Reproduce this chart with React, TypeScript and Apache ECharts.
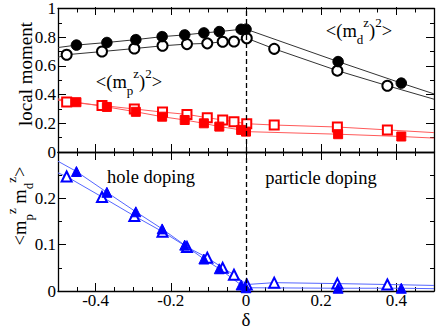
import React, { useEffect, useRef } from "react";
import * as echarts from "echarts";

// x positions (delta) of filled-symbol and open-symbol data sets
const xFilled = [-0.451, -0.37, -0.293, -0.223, -0.163, -0.112, -0.071, -0.013, 0.0, 0.245, 0.413];
const xOpen = [-0.477, -0.383, -0.297, -0.222, -0.157, -0.103, -0.062, -0.032, 0.002, 0.075, 0.243, 0.376];

// <(m_d^z)^2>
const md2Filled = [0.745, 0.763, 0.783, 0.804, 0.816, 0.83, 0.839, 0.855, 0.856, 0.63, 0.48];
const md2Open = [0.678, 0.7, 0.721, 0.74, 0.752, 0.757, 0.768, 0.77, 0.793, 0.719, 0.567, 0.462];
// <(m_p^z)^2>
const mp2Filled = [0.347, 0.314, 0.28, 0.246, 0.223, 0.2, 0.177, 0.154, 0.142, 0.124, 0.108];
const mp2Open = [0.349, 0.324, 0.3, 0.278, 0.262, 0.239, 0.223, 0.211, 0.197, 0.188, 0.174, 0.154];
// <m_p^z m_d^z>
const mpmdFilled = [0.258, 0.213, 0.171, 0.134, 0.099, 0.069, 0.048, 0.013, 0.007, 0.006, 0.006];
const mpmdOpen = [0.247, 0.203, 0.162, 0.128, 0.095, 0.072, 0.05, 0.035, 0.014, 0.018, 0.016, 0.014];

// fitted-line values at delta = -0.5 and delta = 0.5
const xEnds = [-0.5, 0.5];
const md2FilledEnds = [0.728, 0.405];
const md2OpenEnds = [0.66, 0.368];
const mp2FilledEnds = [0.37, 0.097];
const mp2OpenEnds = [0.362, 0.135];
const mpmdFilledEnds = [0.28, 0.005];
const mpmdOpenEnds = [0.255, 0.012];

const xMajorTicks = [-0.4, -0.2, 0, 0.2, 0.4];
const xMinorTicks = [-0.5, -0.45, -0.4, -0.35, -0.3, -0.25, -0.2, -0.15, -0.1, -0.05, 0, 0.05, 0.1, 0.15, 0.2, 0.25, 0.3, 0.35, 0.4, 0.45, 0.5];

const FONT = "Liberation Serif";

function mk(xs: number[], ys: number[], ends: number[]) {
  return [
    { value: [xEnds[0], ends[0]], symbol: "none" },
    ...xs.map((x, i) => [x, ys[i]]),
    { value: [xEnds[1], ends[1]], symbol: "none" },
  ];
}

export default function App() {
  const ref = useRef<HTMLDivElement>(null);
  useEffect(() => {
    if (!ref.current) return;
    const chart = echarts.init(ref.current, null, { renderer: "svg" });
    const gridA = { left: 58, width: 376, top: 7, height: 145 };
    const gridB = { left: 58, width: 376, top: 152, height: 139 };
    const axLine = { show: true, onZero: false, lineStyle: { color: "#000", width: 1.3 } };
    const labelStyle = {
      fontFamily: FONT,
      fontSize: 17,
      color: "#000",
      formatter: (v: number) => `{t|${String(Math.round(v * 10) / 10)}}`,
      rich: { t: { fontFamily: FONT, fontSize: 17, color: "#000" } },
    };
    const xMinor = (gridIndex: number, position: string, labels: boolean) => ({
      type: "value",
      gridIndex,
      position,
      min: -0.5,
      max: 0.5,
      axisLine: axLine,
      axisTick: { show: true, inside: true, length: 4, customValues: xMinorTicks, lineStyle: { color: "#000", width: 1 } },
      axisLabel: labels
        ? { show: true, customValues: xMajorTicks, ...labelStyle, margin: 1 }
        : { show: false },
      splitLine: { show: false },
    });
    const xMajor = (gridIndex: number, position: string) => ({
      type: "value",
      gridIndex,
      position,
      min: -0.5,
      max: 0.5,
      axisLine: { show: false, onZero: false },
      axisTick: { show: true, inside: true, length: 8, customValues: xMajorTicks, lineStyle: { color: "#000", width: 1 } },
      axisLabel: { show: false },
      splitLine: { show: false },
    });
    const yAx = (gridIndex: number, position: string, max: number, interval: number, labels: boolean) => ({
      type: "value",
      gridIndex,
      position,
      min: 0,
      max,
      interval,
      axisLine: axLine,
      axisTick: { show: true, inside: true, length: 8, lineStyle: { color: "#000", width: 1 } },
      minorTick: { show: true, splitNumber: 2, length: 4, lineStyle: { color: "#000", width: 1 } },
      axisLabel: labels
        ? { show: true, ...labelStyle, margin: 2, showMaxLabel: max === 1 }
        : { show: false },
      splitLine: { show: false },
    });
    const vLine = {
      silent: true,
      symbol: "none",
      label: { show: false },
      lineStyle: { color: "#000", type: [5, 3], width: 1.3 },
      data: [{ xAxis: 0 }],
    };
    const ser = (
      name: string,
      xi: number,
      yi: number,
      data: any[],
      symbol: string,
      size: number,
      color: string,
      lineColor: string,
      extra: any = {}
    ) => ({
      name,
      type: "line",
      xAxisIndex: xi,
      yAxisIndex: yi,
      data,
      symbol,
      symbolSize: size,
      showAllSymbol: true,
      itemStyle: { color, borderColor: color, borderWidth: 1 },
      lineStyle: { color: lineColor, width: 1 },
      ...extra,
    });
    const supStyle = { fontFamily: FONT, fontSize: 13, lineHeight: 14, verticalAlign: "top", fill: "#000" };
    const subStyle = { fontFamily: FONT, fontSize: 13, lineHeight: 14, verticalAlign: "bottom", fill: "#000" };

    chart.setOption({
      animation: false,
      backgroundColor: "#fff",
      textStyle: { fontFamily: FONT },
      grid: [gridA, gridB, gridA, gridB],
      xAxis: [
        xMinor(0, "bottom", false),
        xMinor(0, "top", false),
        xMinor(1, "bottom", true),
        xMinor(1, "top", false),
        xMajor(2, "bottom"),
        xMajor(2, "top"),
        xMajor(3, "bottom"),
        xMajor(3, "top"),
      ],
      yAxis: [
        yAx(0, "left", 1, 0.2, true),
        yAx(0, "right", 1, 0.2, false),
        yAx(1, "left", 0.3, 0.1, true),
        yAx(1, "right", 0.3, 0.1, false),
        { type: "value", gridIndex: 2, min: 0, max: 1, show: false },
        { type: "value", gridIndex: 3, min: 0, max: 0.3, show: false },
      ],
      series: [
        ser("md2Open", 0, 0, mk(xOpen, md2Open, md2OpenEnds), "emptyCircle", 10, "#000", "#333", { markLine: vLine }),
        ser("md2Filled", 0, 0, mk(xFilled, md2Filled, md2FilledEnds), "circle", 10.5, "#000", "#333"),
        ser("mp2Open", 0, 0, mk(xOpen, mp2Open, mp2OpenEnds), "emptyRect", 9, "#ff0000", "#ff5a5a"),
        ser("mp2Filled", 0, 0, mk(xFilled, mp2Filled, mp2FilledEnds), "rect", 9, "#ff0000", "#ff5a5a"),
        ser("mpmdOpen", 2, 2, mk(xOpen, mpmdOpen, mpmdOpenEnds), "emptyTriangle", 10, "#0000ff", "#5566ff", { markLine: vLine }),
        ser("mpmdFilled", 2, 2, mk(xFilled, mpmdFilled, mpmdFilledEnds), "triangle", 10, "#0000ff", "#5566ff"),
      ],
      graphic: [
        {
          type: "text",
          x: 25,
          y: 74,
          rotation: Math.PI / 2,
          style: { text: "local moment", font: `19px ${FONT}`, fill: "#000", align: "center", verticalAlign: "middle" },
        },
        {
          type: "text",
          x: 20,
          y: 206,
          rotation: Math.PI / 2,
          style: {
            text: "<m{sub|p}{sup|z} m{sub|d}{sup|z}>",
            align: "center",
            verticalAlign: "middle",
            fontFamily: FONT,
            fontSize: 18.5,
            lineHeight: 30,
            fill: "#000",
            rich: { sup: supStyle, sub: subStyle },
          },
        },
        {
          type: "text",
          x: 359,
          y: 31,
          style: {
            text: "<(m{sub|d}{sup|z}){sup|2}>",
            align: "center",
            verticalAlign: "middle",
            fontFamily: FONT,
            fontSize: 18.5,
            lineHeight: 30,
            fill: "#000",
            rich: { sup: supStyle, sub: subStyle },
          },
        },
        {
          type: "text",
          x: 129,
          y: 82,
          style: {
            text: "<(m{sub|p}{sup|z}){sup|2}>",
            align: "center",
            verticalAlign: "middle",
            fontFamily: FONT,
            fontSize: 18.5,
            lineHeight: 30,
            fill: "#000",
            rich: { sup: supStyle, sub: subStyle },
          },
        },
        {
          type: "text",
          x: 151,
          y: 177,
          style: { text: "hole doping", font: `18.5px ${FONT}`, fill: "#000", align: "center", verticalAlign: "middle" },
        },
        {
          type: "text",
          x: 321,
          y: 178,
          style: { text: "particle doping", font: `18.5px ${FONT}`, fill: "#000", align: "center", verticalAlign: "middle" },
        },
        {
          type: "text",
          x: 246,
          y: 319,
          style: {
            text: "δ",
            fontFamily: FONT,
            fontSize: 19,
            lineHeight: 17,
            fill: "#000",
            align: "center",
            verticalAlign: "middle",
          },
        },
      ],
    });
    return () => chart.dispose();
  }, []);
  return (
    <div
      ref={ref}
      style={{ position: "fixed", left: 0, top: 0, width: 436, height: 329, background: "#fff" }}
    />
  );
}
